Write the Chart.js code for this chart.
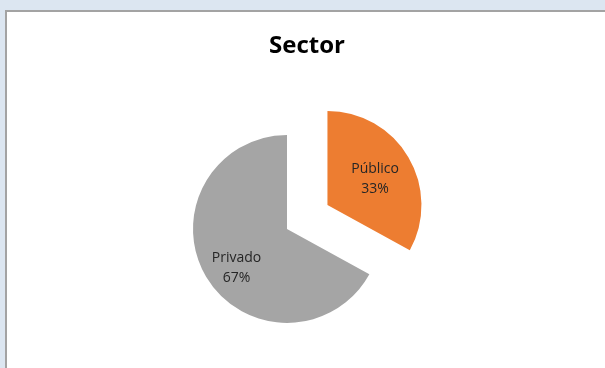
<!DOCTYPE html>
<html>
<head>
<meta charset="utf-8">
<title>Sector</title>
<script src="https://cdn.jsdelivr.net/npm/chart.js@4"></script>
<style>
  html, body { margin: 0; padding: 0; }
  body { width: 605px; height: 368px; overflow: hidden; background: #dce6f1; position: relative; }
  .frame {
    position: absolute; left: 5px; top: 10px; width: 640px; height: 400px;
    background: #fff; border: 2px solid #a3a3a3; box-sizing: border-box;
  }
  #sectorChart { position: absolute; left: 7px; top: 12px; }
</style>
</head>
<body>
<div class="frame"></div>
<canvas id="sectorChart" width="598" height="356"></canvas>
<script>
const categories = ['Público', 'Privado'];
const shares = [33, 67];
const sliceColors = ['#ed7d31', '#a5a5a5'];

// how far each slice is pulled out of the pie
const explode = [47, 0];
// label position inside each slice: fraction of the radius, turn from mid angle (deg)
const labelRadius = [0.58, 0.675];
const labelTurn = [1.5, -6.7];

const explodePlugin = {
  id: 'explode',
  afterLayout(chart) {
    // the pie sits left of centre, the title stays centred on the canvas
    const t = chart.titleBlock;
    t.left += 20;
    t.right += 20;
  },
  afterUpdate(chart) {
    chart.getDatasetMeta(0).data.forEach((arc, i) => {
      const mid = (arc.startAngle + arc.endAngle) / 2;
      arc.x += Math.cos(mid) * explode[i];
      arc.y += Math.sin(mid) * explode[i];
    });
  }
};

const sliceLabels = {
  id: 'sliceLabels',
  afterDatasetsDraw(chart) {
    const ctx = chart.ctx;
    const total = shares.reduce((a, b) => a + b, 0);
    ctx.save();
    ctx.font = '14px "Open Sans"';
    ctx.fillStyle = '#262626';
    ctx.textAlign = 'center';
    ctx.textBaseline = 'middle';
    chart.getDatasetMeta(0).data.forEach((arc, i) => {
      const a = (arc.startAngle + arc.endAngle) / 2 + labelTurn[i] * Math.PI / 180;
      const r = arc.outerRadius * labelRadius[i];
      const x = arc.x + Math.cos(a) * r;
      const y = arc.y + Math.sin(a) * r + 1;
      ctx.fillText(categories[i], x, y - 10);
      ctx.fillText(Math.round(shares[i] / total * 100) + '%', x, y + 10);
    });
    ctx.restore();
  }
};

new Chart(document.getElementById('sectorChart'), {
  type: 'pie',
  data: {
    labels: categories,
    datasets: [{
      data: shares,
      backgroundColor: sliceColors,
      borderWidth: 0,
      radius: 94
    }]
  },
  options: {
    responsive: false,
    animation: false,
    events: [],
    layout: { padding: { left: 0, right: 38, top: 0, bottom: 0 } },
    plugins: {
      legend: { display: false },
      tooltip: { enabled: false },
      title: {
        display: true,
        text: 'Sector',
        color: '#000',
        font: { family: 'Open Sans', size: 24, weight: 'bold' },
        padding: { top: 20, bottom: 29 }
      }
    }
  },
  plugins: [explodePlugin, sliceLabels]
});
</script>
</body>
</html>
